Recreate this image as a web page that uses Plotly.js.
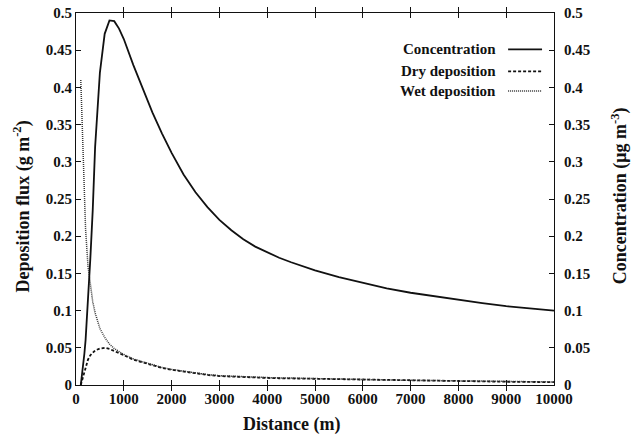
<!DOCTYPE html>
<html>
<head>
<meta charset="utf-8">
<script src="https://cdn.plot.ly/plotly-3.0.1.min.js"></script>
<style>html,body{margin:0;padding:0;background:#fff;}#chart{width:633px;height:441px;}</style>
</head>
<body>
<div id="chart"></div>
<script>
// ---- data ----
var distance = [100,125,150,175,200,250,300,350,400,500,600,700,800,900,1000,1200,1400,1600,1800,2000,2250,2500,2750,3000,3250,3500,3750,4000,4250,4500,5000,5500,6000,6500,7000,7500,8000,8500,9000,9500,10000];
var concentration = [0.0,0.012,0.025,0.042,0.06,0.11,0.17,0.235,0.32,0.42,0.472,0.49,0.489,0.479,0.465,0.43,0.398,0.366,0.338,0.312,0.283,0.259,0.239,0.222,0.208,0.196,0.186,0.178,0.171,0.165,0.154,0.145,0.137,0.130,0.124,0.119,0.114,0.110,0.106,0.103,0.100];
var dryDeposition = [0.0,0.006,0.012,0.019,0.025,0.034,0.040,0.044,0.0465,0.049,0.050,0.0485,0.046,0.043,0.040,0.034,0.030,0.0265,0.023,0.0205,0.018,0.0155,0.0135,0.012,0.0112,0.0105,0.010,0.0095,0.0091,0.0088,0.0082,0.0076,0.007,0.0064,0.006,0.0055,0.005,0.0047,0.0044,0.0041,0.0038];
var wetDeposition = [0.41,0.36,0.30,0.25,0.21,0.16,0.133,0.112,0.097,0.076,0.064,0.055,0.049,0.045,0.041,0.035,0.031,0.027,0.0235,0.021,0.0185,0.016,0.014,0.0125,0.0117,0.011,0.0105,0.010,0.0096,0.0092,0.0086,0.008,0.0074,0.0068,0.0063,0.0058,0.0053,0.005,0.0047,0.0044,0.0041];
var xTickVals = [0,1000,2000,3000,4000,5000,6000,7000,8000,9000,10000];
var xTickText = ['0','1000','2000','3000','4000','5000','6000','7000','8000','9000','10000'];
var yTickVals = [0,0.05,0.1,0.15,0.2,0.25,0.3,0.35,0.4,0.45,0.5];
var yTickText = ['0','0.05','0.1','0.15','0.2','0.25','0.3','0.35','0.4','0.45','0.5'];
var seriesNames = ['Concentration','Dry deposition','Wet deposition'];

// ---- styling ----
var FONT = 'Liberation Serif, Times New Roman, serif';
var tickFont = {family: FONT, size: 15, color: '#111', weight: 'bold'};
var lineStyles = [
  {color: '#111', width: 1.8, dash: 'solid'},
  {color: '#111', width: 1.8, dash: '3px,2px'},
  {color: '#333', width: 1.5, dash: '1px,1px'}
];

var traces = [
  {x: distance, y: concentration, yaxis: 'y2', mode: 'lines', name: seriesNames[0], line: lineStyles[0]},
  {x: distance, y: dryDeposition, yaxis: 'y', mode: 'lines', name: seriesNames[1], line: lineStyles[1]},
  {x: distance, y: wetDeposition, yaxis: 'y', mode: 'lines', name: seriesNames[2], line: lineStyles[2]}
];

var legendY = [0.902, 0.843, 0.79];
var annotations = [
  {text: 'Distance (m)', xref: 'paper', yref: 'paper', x: 0.45, y: -0.106, xanchor: 'center', yanchor: 'middle', showarrow: false, font: {family: FONT, size: 18, color: '#111', weight: 'bold'}},
  {text: 'Deposition flux (g m<sup>-2</sup>)', xref: 'paper', yref: 'paper', x: -0.111, y: 0.48, xanchor: 'center', yanchor: 'middle', textangle: -90, showarrow: false, font: {family: FONT, size: 18, color: '#111', weight: 'bold'}},
  {text: 'Concentration (\u03bcg m<sup>-3</sup>)', xref: 'paper', yref: 'paper', x: 1.138, y: 0.51, xanchor: 'center', yanchor: 'middle', textangle: -90, showarrow: false, font: {family: FONT, size: 18, color: '#111', weight: 'bold'}}
];
var shapes = [];
for (var i = 0; i < seriesNames.length; i++) {
  annotations.push({text: seriesNames[i], xref: 'paper', yref: 'paper', x: 0.883, y: legendY[i], xanchor: 'right', yanchor: 'middle', showarrow: false, font: {family: FONT, size: 15, color: '#111', weight: 'bold'}});
  shapes.push({type: 'line', xref: 'paper', yref: 'paper', x0: 0.904, x1: 0.975, y0: legendY[i], y1: legendY[i], line: lineStyles[i]});
}

var axisCommon = {showline: true, linecolor: '#111', linewidth: 1, showgrid: false, zeroline: false, ticks: 'inside', ticklen: 5, tickcolor: '#111', tickfont: tickFont};

var layout = {
  width: 633, height: 441,
  margin: {l: 76, r: 79, t: 13, b: 56},
  paper_bgcolor: '#fff', plot_bgcolor: '#fff',
  showlegend: false,
  xaxis: Object.assign({}, axisCommon, {range: [0, 10000], tickmode: 'array', tickvals: xTickVals, ticktext: xTickText, mirror: 'allticks'}),
  yaxis: Object.assign({}, axisCommon, {range: [0, 0.5], tickmode: 'array', tickvals: yTickVals, ticktext: yTickText, mirror: true}),
  yaxis2: Object.assign({}, axisCommon, {range: [0, 0.5], tickmode: 'array', tickvals: yTickVals, ticktext: yTickText, overlaying: 'y', side: 'right', ticklabelstandoff: 6}),
  annotations: annotations,
  shapes: shapes
};

Plotly.newPlot('chart', traces, layout, {staticPlot: true, displayModeBar: false});
</script>
</body>
</html>
